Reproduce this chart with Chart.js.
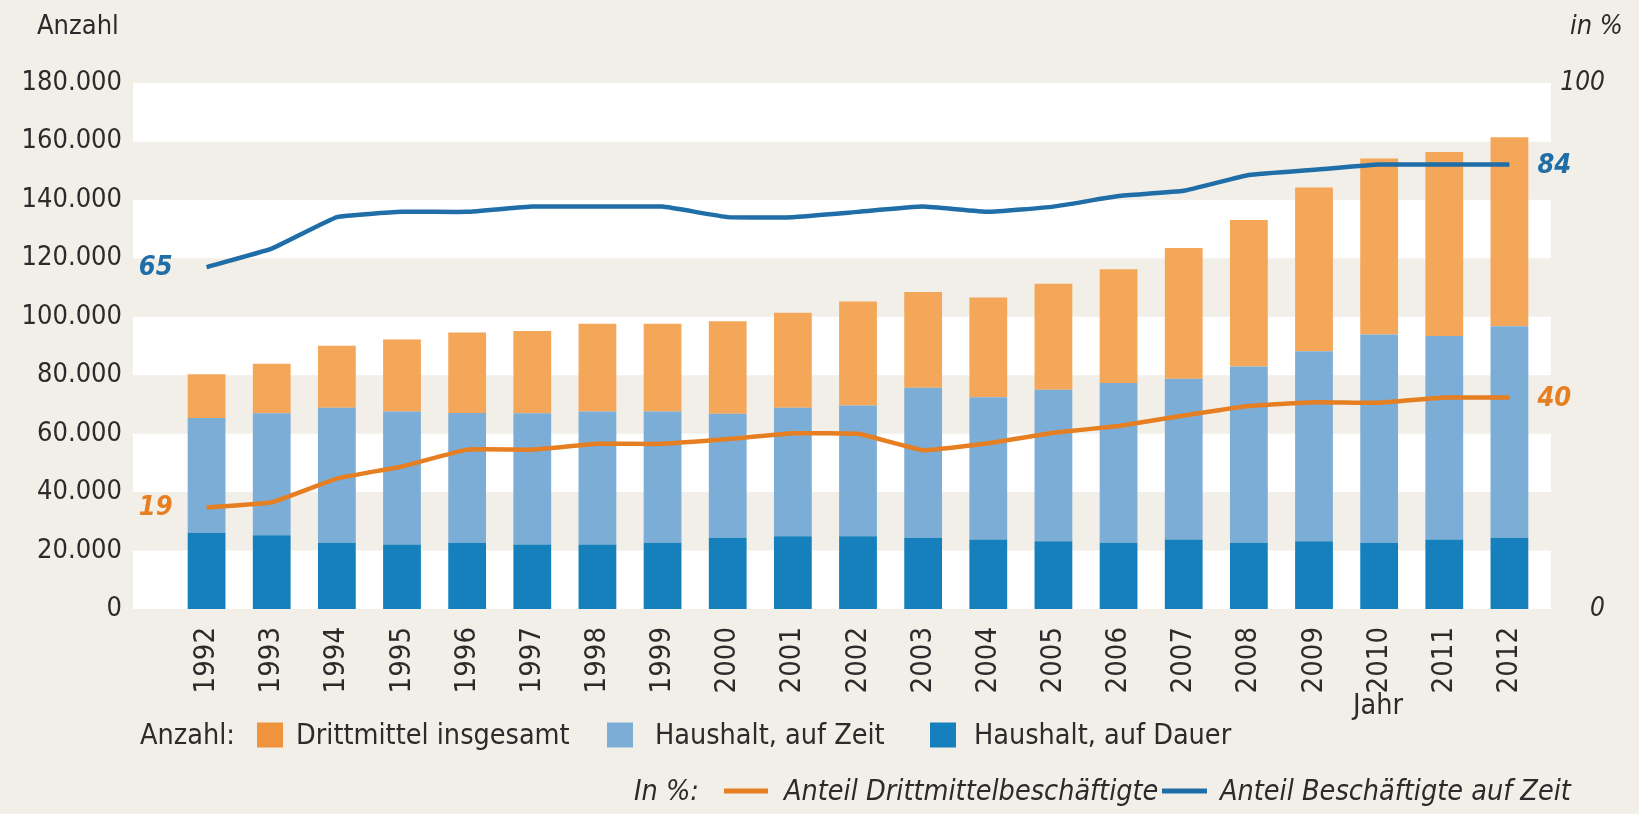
<!DOCTYPE html>
<html lang="de">
<head>
<meta charset="UTF-8">
<title>Beschäftigte nach Finanzierung</title>
<script src="https://cdn.jsdelivr.net/npm/chart.js"></script>
<style>
  body { margin: 0; background: #f2efe8; font-family: "DejaVu Sans Condensed", "Liberation Sans Narrow", "DejaVu Sans", sans-serif; color: #2b2b2b; }
  #wrap { position: relative; width: 1639px; height: 814px; }
  .lbl { position: absolute; font-size: 28.5px; line-height: 1; white-space: nowrap; transform: translateY(-50%); }
  .top { font-size: 27px; }
  .it { font-style: italic; }
  .sq { position: absolute; width: 26px; height: 25px; transform: translateY(-50%); }
  .ln { position: absolute; height: 5px; transform: translateY(-50%); }
</style>
</head>
<body>
<div id="wrap">
  <canvas id="chart"></canvas>
  <div class="lbl top" style="left:37px; top:24px">Anzahl</div>
  <div class="lbl top it" style="left:1570px; top:24px">in %</div>
  <div class="lbl" style="left:1353px; top:705px">Jahr</div>

  <div class="lbl" style="left:140px; top:735px">Anzahl:</div>
  <div class="sq" style="left:257px; top:735px; background:#ef943c"></div>
  <div class="lbl" style="left:296px; top:735px">Drittmittel insgesamt</div>
  <div class="sq" style="left:607px; top:735px; background:#7badd6"></div>
  <div class="lbl" style="left:655px; top:735px">Haushalt, auf Zeit</div>
  <div class="sq" style="left:930px; top:735px; background:#1680bd"></div>
  <div class="lbl" style="left:974px; top:735px">Haushalt, auf Dauer</div>

  <div class="lbl it" style="left:634px; top:791px">In %:</div>
  <div class="ln" style="left:724px; top:791px; width:44px; background:#e67e22"></div>
  <div class="lbl it" style="left:784px; top:791px">Anteil Drittmittelbeschäftigte</div>
  <div class="ln" style="left:1162px; top:791px; width:45px; background:#1f6ea8"></div>
  <div class="lbl it" style="left:1220px; top:791px">Anteil Beschäftigte auf Zeit</div>
</div>

<script>
const years = ['1992','1993','1994','1995','1996','1997','1998','1999','2000','2001','2002',
               '2003','2004','2005','2006','2007','2008','2009','2010','2011','2012'];

// Anzahl (stacked)
const haushaltDauer = [26100,25200,22700,22100,22700,22100,22100,22700,24400,24900,24900,
                       24400,23800,23200,22700,23800,22700,23200,22700,23800,24400];
const haushaltZeit  = [39300,41800,46200,45500,44400,44900,45500,44900,42400,44000,44700,
                       51300,48700,51800,54600,55000,60300,65000,71200,69600,72400];
const drittmittel   = [14900,16900,21200,24600,27500,28100,30000,30000,31700,32500,35600,
                       32800,34100,36300,39000,44700,50100,56000,60300,63000,64600];

// In %
const anteilDrittmittel = [19.3,20.3,24.8,27.1,30.3,30.3,31.4,31.4,32.3,33.4,33.3,
                           30.2,31.5,33.5,34.8,36.8,38.6,39.3,39.2,40.2,40.2];
const anteilZeit        = [65,68.5,74.5,75.5,75.5,76.5,76.5,76.5,74.5,74.5,75.5,
                           76.5,75.5,76.5,78.5,79.5,82.5,83.5,84.5,84.5,84.5];

const endLabelsLeft  = ['19', '65'];
const endLabelsRight = ['40', '84'];

const FONT = '"DejaVu Sans Condensed", "Liberation Sans Narrow", "DejaVu Sans", sans-serif';
Chart.defaults.font.family = FONT;
Chart.defaults.color = '#2b2b2b';

// alternating white / beige bands behind the plot
const bands = {
  id: 'bands',
  beforeDraw(chart) {
    const { ctx, chartArea, scales } = chart;
    const y = scales.y;
    const left = chartArea.left - 41, right = chartArea.right + 9;
    ctx.save();
    ctx.fillStyle = '#ffffff';
    for (let v = 0; v < 180000; v += 40000) {
      const top = y.getPixelForValue(v + 20000), bot = y.getPixelForValue(v);
      ctx.fillRect(left, top, right - left, bot - top);
    }
    ctx.fillRect(left, y.getPixelForValue(180000), right - left,
                 y.getPixelForValue(160000) - y.getPixelForValue(180000));
    ctx.restore();
  }
};

// value labels at start and end of the lines
const endLabels = {
  id: 'endLabels',
  afterDatasetsDraw(chart) {
    const { ctx } = chart;
    ctx.save();
    ctx.font = 'italic 600 27px ' + FONT;
    ctx.textBaseline = 'middle';
    [3, 4].forEach((di, k) => {
      const meta = chart.getDatasetMeta(di);
      const first = meta.data[0], last = meta.data[meta.data.length - 1];
      ctx.fillStyle = chart.data.datasets[di].borderColor;
      ctx.textAlign = 'right';
      ctx.fillText(endLabelsLeft[k], first.x - 34, first.y + 1);
      ctx.textAlign = 'left';
      ctx.fillText(endLabelsRight[k], last.x + 28, last.y + 1);
    });
    ctx.restore();
  }
};

new Chart(document.getElementById('chart'), {
  data: {
    labels: years,
    datasets: [
      { type: 'bar', label: 'Haushalt, auf Dauer', data: haushaltDauer, backgroundColor: '#1680bd', order: 1 },
      { type: 'bar', label: 'Haushalt, auf Zeit', data: haushaltZeit, backgroundColor: '#7badd6', order: 1 },
      { type: 'bar', label: 'Drittmittel insgesamt', data: drittmittel, backgroundColor: '#f4a659', order: 1 },
      { type: 'line', label: 'Anteil Drittmittelbeschäftigte', data: anteilDrittmittel, yAxisID: 'y1',
        borderColor: '#e67e22', borderWidth: 4.5, pointRadius: 0, tension: 0.1, order: 0 },
      { type: 'line', label: 'Anteil Beschäftigte auf Zeit', data: anteilZeit, yAxisID: 'y1',
        borderColor: '#1f6ea8', borderWidth: 4.5, pointRadius: 0, tension: 0.1, order: 0 }
    ]
  },
  options: {
    responsive: true,
    maintainAspectRatio: false,
    animation: false,
    layout: { padding: { top: 83, left: 0, right: 34, bottom: 0 } },
    datasets: { bar: { barPercentage: 0.58, categoryPercentage: 1 } },
    plugins: { legend: { display: false }, tooltip: { enabled: false } },
    scales: {
      x: {
        stacked: true,
        grid: { display: false }, border: { display: false },
        ticks: { minRotation: 90, maxRotation: 90, padding: 10, font: { size: 29 } },
        afterFit(s) { s.height = 205; }
      },
      y: {
        stacked: true, min: 0, max: 180000,
        grid: { display: false, drawTicks: false }, border: { display: false },
        ticks: { stepSize: 20000, padding: 52, font: { size: 27 },
                 callback: v => String(v).replace(/\B(?=(\d{3})+(?!\d))/g, '.') },
        afterFit(s) { s.width = 174; }
      },
      y1: {
        position: 'right', min: 0, max: 100,
        grid: { display: false, drawTicks: false }, border: { display: false },
        ticks: { stepSize: 100, padding: 23, crossAlign: 'far', font: { size: 26, style: 'italic' } },
        afterFit(s) { s.width = 63; }
      }
    }
  },
  plugins: [bands, endLabels]
});
</script>
</body>
</html>
